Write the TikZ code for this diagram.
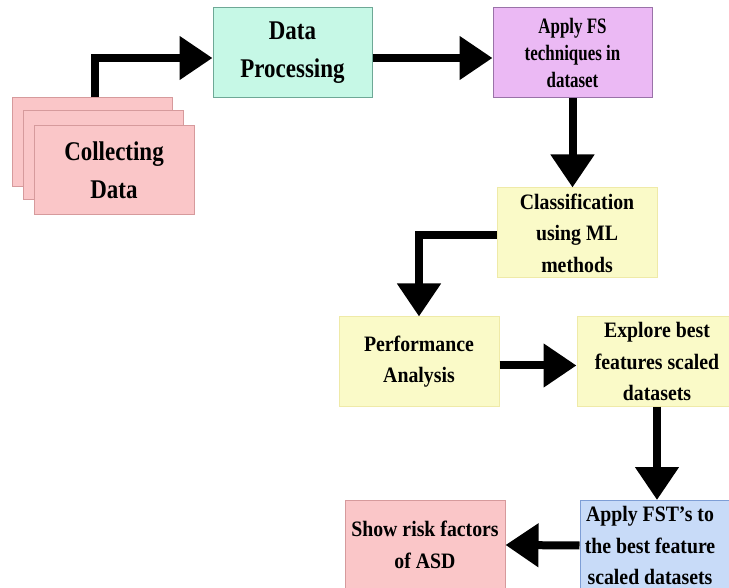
\documentclass[tikz,border=0pt]{standalone}
\usepackage{fontspec}
\setmainfont{Liberation Serif}
\newfontfamily\bigface{Liberation Serif}[FakeStretch=0.85]
\newfontfamily\smallface{Liberation Serif}[FakeStretch=0.9]
\newfontfamily\narrowface{Liberation Serif}[FakeStretch=0.77]
\usetikzlibrary{arrows.meta,calc}
\definecolor{pinkfill}{HTML}{FAC6C8}
\definecolor{pinkdraw}{HTML}{D69A9C}
\definecolor{mintfill}{HTML}{C6F8E6}
\definecolor{mintdraw}{HTML}{6EA896}
\definecolor{violetfill}{HTML}{EBB9F4}
\definecolor{violetdraw}{HTML}{9A72A8}
\definecolor{yelfill}{HTML}{FAFAC8}
\definecolor{yeldraw}{HTML}{EFEAA8}
\definecolor{bluefill}{HTML}{C8DBF8}
\definecolor{bluedraw}{HTML}{7E9ED6}
\tikzset{
  box/.style={draw, line width=1pt, minimum width=160pt, minimum height=90pt,
    inner sep=0pt, align=center, text=black},
  small/.style={font=\smallface\bfseries\fontsize{22}{31.5}\selectfont},
  big/.style={font=\bigface\bfseries\fontsize{27}{38}\selectfont},
  narrow/.style={font=\narrowface\bfseries\fontsize{22}{27}\selectfont},
  pinkbox/.style={box, fill=pinkfill, draw=pinkdraw},
  mintbox/.style={box, fill=mintfill, draw=mintdraw},
  violetbox/.style={box, fill=violetfill, draw=violetdraw},
  yelbox/.style={box, fill=yelfill, draw=yeldraw},
  bluebox/.style={box, fill=bluefill, draw=bluedraw},
  arr/.style={line width=8pt, -{Triangle[length=33pt,width=42pt]}},
}
\begin{document}
\begin{tikzpicture}[x=1pt,y=-1pt]
\useasboundingbox (0,0) rectangle (729,588);
% collecting data stack
\node[pinkbox, minimum height=89pt] (cback) at (92,142.5) {};
\node[pinkbox, minimum height=89pt] (cmid) at (103,155.5) {};
\node[pinkbox, big, minimum height=89pt] (coll) at (114,170.5) {Collecting\\Data};
% top row
\node[mintbox, big, minimum width=159pt] (dp) at (292.5,53) {Data\\Processing};
\node[violetbox, narrow, minimum width=159pt] (afs) at (572.5,53) {Apply FS\\techniques in\\dataset};
\node[yelbox, small] (cls) at (577,233) {Classification\\using ML\\methods};
\node[yelbox, small, minimum height=89pt] (perf) at (419,361.5) {Performance\\Analysis};
\node[yelbox, small, minimum height=89pt] (exp) at (657,361.5) {Explore best\\features scaled\\datasets};
\node[bluebox, label={[small, align=center, xshift=-10pt]center:Apply FST’s to\\the best feature\\scaled datasets}] (fst) at (660,545.5) {};
\node[pinkbox, small] (show) at (425,545) {Show risk factors\\of ASD};
% connectors
\draw[arr] ([xshift=83pt]cback.north west) |- ([yshift=-5pt]dp.west);
\draw[arr] ([yshift=-5pt]dp.east) -- ([yshift=-5pt]afs.west);
\draw[arr] (afs.south) -- (afs.south |- cls.north);
\draw[arr] ([yshift=-2pt]cls.west) -| (perf.north);
\draw[arr] ([yshift=-4pt]perf.east) -- ([yshift=-4pt]exp.west);
\draw[arr] (exp.south) -- (exp.south |- fst.north);
\draw[arr] (fst.west) -- (show.east);
\end{tikzpicture}
\end{document}
